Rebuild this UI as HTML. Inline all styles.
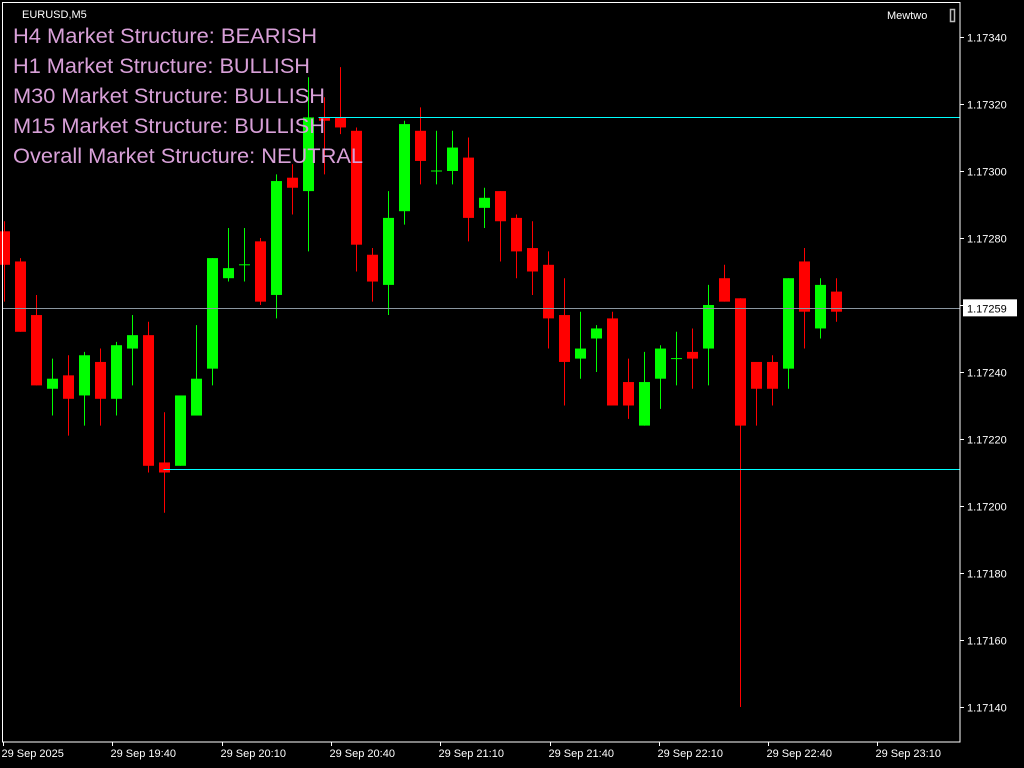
<!DOCTYPE html>
<html><head><meta charset="utf-8"><style>
html,body{margin:0;padding:0;background:#000;width:1024px;height:768px;overflow:hidden}
svg{display:block}
text{font-family:"Liberation Sans",Arial,sans-serif}
</style></head><body>
<svg id="chart" width="1024" height="768" viewBox="0 0 1024 768" xmlns="http://www.w3.org/2000/svg">
<rect x="0" y="0" width="1024" height="768" fill="#000"/>
<g id="candles"></g>
<g id="levels"></g>
<rect x="2.5" y="2.5" width="957.5" height="739.5" fill="none" stroke="#fff" stroke-width="1"/>
<g id="yaxis"></g>
<g id="xaxis"></g>
<text x="22" y="18" fill="#fff" font-size="11">EURUSD,M5</text>
<text x="887" y="19" fill="#fff" font-size="11">Mewtwo</text>
<rect x="950.5" y="9.5" width="4" height="12" fill="none" stroke="#bbb" stroke-width="1.5"/>
<g fill="#d8a0d8" font-size="21.5">
<text x="13" y="43" textLength="304" lengthAdjust="spacingAndGlyphs">H4 Market Structure: BEARISH</text>
<text x="13" y="73" textLength="297" lengthAdjust="spacingAndGlyphs">H1 Market Structure: BULLISH</text>
<text x="13" y="103" textLength="312" lengthAdjust="spacingAndGlyphs">M30 Market Structure: BULLISH</text>
<text x="13" y="133" textLength="312" lengthAdjust="spacingAndGlyphs">M15 Market Structure: BULLISH</text>
<text x="13" y="163" textLength="350" lengthAdjust="spacingAndGlyphs">Overall Market Structure: NEUTRAL</text>
</g>
</svg>
<script>
const opens  = [1.17282,1.17273,1.17257,1.17235,1.17239,1.17233,1.17243,1.17232,1.17247,1.17251,1.17213,1.17212,1.17227,1.17241,1.17268,1.17272,1.17279,1.17263,1.17298,1.17294,1.17316,1.17316,1.17312,1.17275,1.17266,1.17288,1.17312,1.17300,1.17300,1.17304,1.17289,1.17294,1.17286,1.17277,1.17272,1.17257,1.17244,1.17250,1.17256,1.17237,1.17224,1.17238,1.17244,1.17246,1.17247,1.17268,1.17262,1.17243,1.17243,1.17241,1.17273,1.17253,1.17264];
const highs  = [1.17285,1.17274,1.17263,1.17244,1.17245,1.17246,1.17247,1.17249,1.17257,1.17255,1.17228,1.17233,1.17254,1.17274,1.17283,1.17283,1.17280,1.17299,1.17302,1.17328,1.17322,1.17331,1.17313,1.17277,1.17294,1.17315,1.17319,1.17312,1.17312,1.17310,1.17295,1.17294,1.17287,1.17285,1.17276,1.17268,1.17258,1.17254,1.17258,1.17244,1.17246,1.17248,1.17252,1.17253,1.17266,1.17272,1.17262,1.17243,1.17245,1.17268,1.17277,1.17268,1.17268];
const lows   = [1.17261,1.17252,1.17236,1.17227,1.17221,1.17224,1.17224,1.17227,1.17236,1.17210,1.17198,1.17212,1.17227,1.17236,1.17267,1.17267,1.17260,1.17256,1.17287,1.17276,1.17299,1.17311,1.17270,1.17261,1.17257,1.17284,1.17296,1.17296,1.17296,1.17279,1.17283,1.17273,1.17268,1.17263,1.17247,1.17230,1.17238,1.17240,1.17230,1.17226,1.17224,1.17229,1.17236,1.17235,1.17236,1.17261,1.17140,1.17224,1.17230,1.17235,1.17247,1.17250,1.17255];
const closes = [1.17272,1.17252,1.17236,1.17238,1.17232,1.17245,1.17232,1.17248,1.17251,1.17212,1.17210,1.17233,1.17238,1.17274,1.17271,1.17272,1.17261,1.17297,1.17295,1.17316,1.17315,1.17313,1.17278,1.17267,1.17286,1.17314,1.17303,1.17300,1.17307,1.17286,1.17292,1.17285,1.17276,1.17270,1.17256,1.17243,1.17247,1.17253,1.17230,1.17230,1.17237,1.17247,1.17244,1.17244,1.17260,1.17261,1.17224,1.17235,1.17235,1.17268,1.17258,1.17266,1.17258];
const priceTicks = [1.17340,1.17320,1.17300,1.17280,1.17260,1.17240,1.17220,1.17200,1.17180,1.17160,1.17140];
const timeLabels = ["29 Sep 2025","29 Sep 19:40","29 Sep 20:10","29 Sep 20:40","29 Sep 21:10","29 Sep 21:40","29 Sep 22:10","29 Sep 22:40","29 Sep 23:10"];
const lastPrice = 1.17259;
const resistance = 1.17316, resistanceStart = 20;
const support = 1.17211, supportStart = 10;

const NS = "http://www.w3.org/2000/svg";
function y(p){ return 37 + (1.17340 - p) * 335000; }
function x(i){ return 3.5 + 16 * i; }
function mk(tag, attrs, parent){ const e=document.createElementNS(NS,tag); for(const k in attrs) e.setAttribute(k,attrs[k]); parent.appendChild(e); return e; }

const cg = document.getElementById('candles');
for(let i=0;i<opens.length;i++){
  const up = closes[i] >= opens[i];
  const col = up ? '#00ff00' : '#ff0000';
  const g = mk('g',{},cg);
  
  
  const cx = Math.round(x(i)) + 0.5;
  mk('line',{x1:cx,x2:cx,y1:y(highs[i]),y2:y(lows[i]),stroke:col,'stroke-width':1},g);
  const top = y(Math.max(opens[i],closes[i])), bot = y(Math.min(opens[i],closes[i]));
  if (bot - top < 1.5) mk('line',{x1:cx-5.5,x2:cx+5.5,y1:top,y2:top,stroke:col,'stroke-width':1},g);
  else mk('rect',{x:cx-5.5,y:top,width:11,height:bot-top,fill:col},g);
}

const lg = document.getElementById('levels');
const bid = mk('line',{x1:3,x2:960,y1:Math.round(y(lastPrice))+0.5,y2:Math.round(y(lastPrice))+0.5,stroke:'#8a96a0','stroke-width':1},lg);


const r = mk('line',{x1:x(resistanceStart)-5,x2:960,y1:Math.round(y(resistance))+0.5,y2:Math.round(y(resistance))+0.5,stroke:'#00ffff','stroke-width':1},lg);


const s = mk('line',{x1:x(supportStart),x2:960,y1:Math.round(y(support))+0.5,y2:Math.round(y(support))+0.5,stroke:'#00ffff','stroke-width':1},lg);



const ya = document.getElementById('yaxis');
priceTicks.forEach(p=>{
  const yy = Math.round(y(p))+0.5;
  const t = mk('line',{x1:960,x2:964,y1:yy,y2:yy,stroke:'#fff'},ya);
  
  
  const tx = mk('text',{x:967,y:yy+4,fill:'#fff','font-size':11},ya);
  
  
  tx.textContent = p.toFixed(5);
});
const ly = y(lastPrice);
const box = mk('rect',{x:963,y:ly-9,width:54,height:17,fill:'#fff'},ya);


const lt = mk('text',{x:967,y:ly+4,fill:'#000','font-size':11},ya);


lt.textContent = lastPrice.toFixed(5);

const xa = document.getElementById('xaxis');
timeLabels.forEach((lab,k)=>{
  const xx = Math.round(3 + 109.3*k)+0.5;
  const t = mk('line',{x1:xx,x2:xx,y1:742,y2:746,stroke:'#fff'},xa);
  
  
  const tx = mk('text',{x:xx-2,y:757,fill:'#fff','font-size':11},xa);
  
  
  tx.textContent = lab;
});
</script>
</body></html>
